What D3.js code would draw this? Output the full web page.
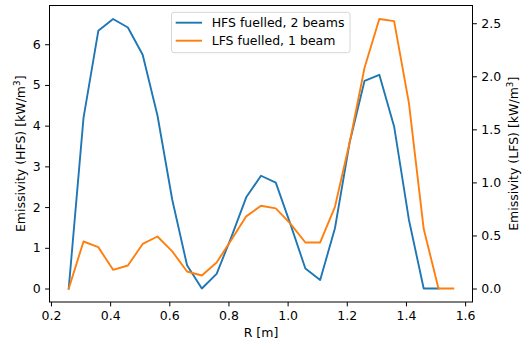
<!DOCTYPE html>
<html><head><meta charset="utf-8">
<script src="https://cdn.jsdelivr.net/npm/d3@7"></script>
<style>
body{margin:0;background:#fff;}
svg text{font-family:"DejaVu Sans",sans-serif;fill:#000;}
</style></head>
<body>
<svg id="chart" width="525" height="347"></svg>
<script>
const rValues = [0.26,0.31,0.36,0.41,0.46,0.51,0.56,0.61,0.66,0.71,0.76,0.81,0.86,0.91,0.96,1.01,1.06,1.11,1.16,1.21,1.26,1.31,1.36,1.41,1.46,1.51,1.56];
const hfsValues = [0,4.19,6.33,6.62,6.41,5.74,4.25,2.18,0.57,0.0,0.36,1.27,2.24,2.77,2.60,1.57,0.49,0.21,1.48,3.6,5.10,5.25,3.98,1.69,0,0];
const lfsValues = [0,0.443,0.39,0.176,0.217,0.42,0.49,0.35,0.16,0.123,0.245,0.46,0.68,0.78,0.755,0.61,0.434,0.434,0.77,1.38,2.08,2.54,2.52,1.75,0.563,0,0];
const xTicks = [0.2,0.4,0.6,0.8,1.0,1.2,1.4,1.6];
const yLeftTicks = [0,1,2,3,4,5,6];
const yRightTicks = [0,0.5,1.0,1.5,2.0,2.5];
const seriesNames = ["HFS fuelled, 2 beams","LFS fuelled, 1 beam"];
const colors = ["#1f77b4","#ff7f0e"];

const svg = d3.select("#chart");
const L = 49.5, R = 472.5, T = 5.5, B = 302;
const fs = 12.5;

const xMin = d3.min(rValues), xMax = d3.max(rValues), xm = (xMax-xMin)*0.05;
const x = d3.scaleLinear().domain([xMin-xm, xMax+xm]).range([L, R]);
const hMax = d3.max(hfsValues), hm = hMax*0.05;
const yL = d3.scaleLinear().domain([-hm, hMax+hm]).range([B, T]);
const lMax = d3.max(lfsValues), lm = lMax*0.05;
const yR = d3.scaleLinear().domain([-lm, lMax+lm]).range([B, T]);

// axes
const xAxis = d3.axisBottom(x).tickValues(xTicks).tickFormat(d3.format(".1f")).tickSize(4.4).tickPadding(4.4);
const gx = svg.append("g").attr("transform",`translate(0,${B})`).call(xAxis);
const yAxisL = d3.axisLeft(yL).tickValues(yLeftTicks).tickFormat(d3.format("d")).tickSize(4.4).tickPadding(4.4);
const gyl = svg.append("g").attr("transform",`translate(${L},0)`).call(yAxisL);
const yAxisR = d3.axisRight(yR).tickValues(yRightTicks).tickFormat(d3.format(".1f")).tickSize(4.4).tickPadding(4.4);
const gyr = svg.append("g").attr("transform",`translate(${R},0)`).call(yAxisR);
[gx,gyl,gyr].forEach(g=>{
  g.select(".domain").remove();
  g.selectAll(".tick line").attr("stroke","#000").attr("stroke-width",1);
  g.selectAll(".tick text").attr("font-size",fs).attr("font-family","DejaVu Sans").attr("fill","#000");
});

// lines
const lineH = d3.line().x((d,i)=>x(rValues[i])).y(d=>yL(d));
const lineL = d3.line().x((d,i)=>x(rValues[i])).y(d=>yR(d));
const clip = svg.append("clipPath").attr("id","clip").append("rect").attr("x",L).attr("y",T).attr("width",R-L).attr("height",B-T);
svg.append("path").attr("d",lineH(hfsValues)).attr("fill","none").attr("stroke",colors[0]).attr("stroke-width",1.9).attr("stroke-linejoin","round").attr("stroke-linecap","square").attr("clip-path","url(#clip)");
svg.append("path").attr("d",lineL(lfsValues)).attr("fill","none").attr("stroke",colors[1]).attr("stroke-width",1.9).attr("stroke-linejoin","round").attr("stroke-linecap","square").attr("clip-path","url(#clip)");

// spines
svg.append("rect").attr("x",L).attr("y",T).attr("width",R-L).attr("height",B-T).attr("fill","none").attr("stroke","#000").attr("stroke-width",1);

// labels
svg.append("text").attr("x",(L+R)/2).attr("y",337).attr("text-anchor","middle").attr("font-size",fs).text("R [m]");
const ylab = svg.append("text").attr("transform",`translate(24.5,${(T+B)/2}) rotate(-90)`).attr("text-anchor","middle").attr("font-size",fs);
ylab.append("tspan").text("Emissivity (HFS) [kW/m");
ylab.append("tspan").attr("dy",-5).attr("font-size",fs*0.7).text("3");
ylab.append("tspan").attr("dy",5).text("]");
const yrlab = svg.append("text").attr("transform",`translate(518,${(T+B)/2}) rotate(-90)`).attr("text-anchor","middle").attr("font-size",fs);
yrlab.append("tspan").text("Emissivity (LFS) [kW/m");
yrlab.append("tspan").attr("dy",-5).attr("font-size",fs*0.7).text("3");
yrlab.append("tspan").attr("dy",5).text("]");

// legend
const lg = svg.append("g");
lg.append("rect").attr("x",171.5).attr("y",12.3).attr("width",178.5).attr("height",40.4).attr("rx",2.5).attr("fill","#fff").attr("fill-opacity",0.8).attr("stroke","#d6d6d6").attr("stroke-width",1);
seriesNames.forEach((n,i)=>{
  const yy = 22.7 + i*18;
  lg.append("line").attr("x1",175.7).attr("x2",202).attr("y1",yy).attr("y2",yy).attr("stroke",colors[i]).attr("stroke-width",1.9);
  lg.append("text").attr("x",211.7).attr("y",yy+4.4).attr("font-size",fs).text(n);
});
</script>
</body></html>
